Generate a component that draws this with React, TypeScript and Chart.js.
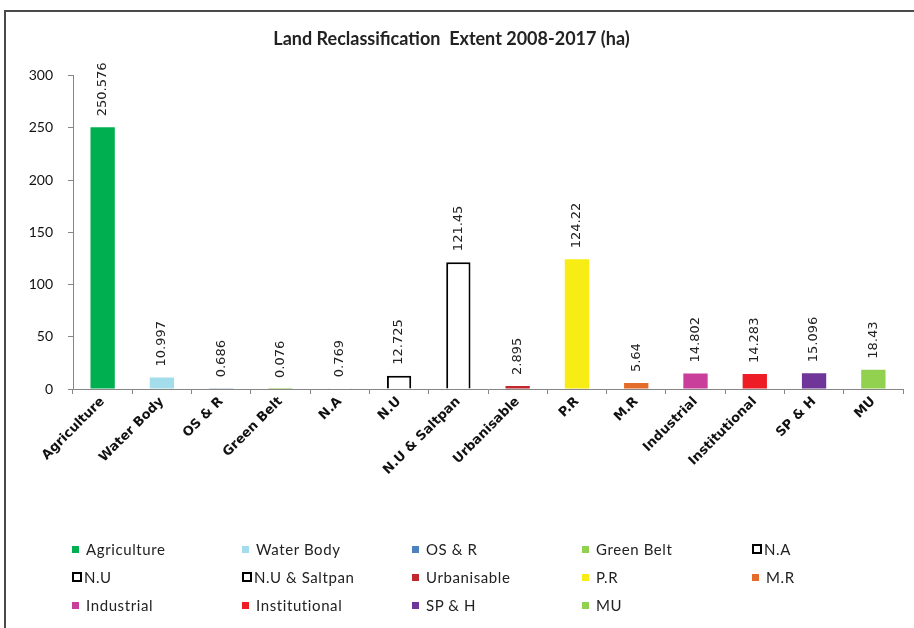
import React, { useEffect, useRef } from "react";
import { Chart, registerables } from "chart.js";

Chart.register(...registerables);

const TITLE = "Land Reclassification  Extent 2008-2017 (ha)";

const categories = [
  "Agriculture",
  "Water Body",
  "OS & R",
  "Green Belt",
  "N.A",
  "N.U",
  "N.U & Saltpan",
  "Urbanisable",
  "P.R",
  "M.R",
  "Industrial",
  "Institutional",
  "SP & H",
  "MU",
];

const values = [
  250.576, 10.997, 0.686, 0.076, 0.769, 12.725, 121.45, 2.895, 124.22, 5.64,
  14.802, 14.283, 15.096, 18.43,
];

const fillColors = [
  "#00B050",
  "#A3DCEA",
  "#4F81BD",
  "#92D050",
  "#FFFFFF",
  "#FFFFFF",
  "#FFFFFF",
  "#C0282D",
  "#F7EC13",
  "#E46C2A",
  "#C93D9B",
  "#EE1C25",
  "#6F3598",
  "#92D050",
];

const hollow = [false, false, false, false, true, true, true, false, false, false, false, false, false, false];

const yMin = 0;
const yMax = 300;
const yStep = 50;

const valueLabelPlugin = {
  id: "valueLabels",
  afterDatasetsDraw(chart: any) {
    const ctx = chart.ctx;
    const meta = chart.getDatasetMeta(0);
    ctx.save();
    ctx.font = "13px 'DejaVu Sans'";
    ctx.fillStyle = "#222";
    ctx.textAlign = "left";
    ctx.textBaseline = "middle";
    meta.data.forEach((bar: any, i: number) => {
      ctx.save();
      ctx.translate(bar.x, bar.y - 11);
      ctx.rotate(-Math.PI / 2);
      ctx.fillText(String(values[i]), 0, 0);
      ctx.restore();
    });
    ctx.restore();
  },
};

export default function App() {
  const canvasRef = useRef<HTMLCanvasElement | null>(null);

  useEffect(() => {
    if (!canvasRef.current) return;
    const chart = new Chart(canvasRef.current, {
      type: "bar",
      data: {
        labels: categories,
        datasets: [
          {
            data: values,
            backgroundColor: fillColors,
            borderColor: hollow.map((h) => (h ? "#000000" : "rgba(0,0,0,0)")),
            borderWidth: hollow.map((h) => (h ? 2 : 0)),
            barPercentage: 0.41,
            categoryPercentage: 1,
          },
        ],
      },
      options: {
        responsive: false,
        animation: false,
        devicePixelRatio: 1,
        layout: { padding: { left: 0, right: 11, top: 0, bottom: 89 } },
        plugins: {
          legend: { display: false },
          tooltip: { enabled: false },
          title: {
            display: true,
            text: TITLE,
            color: "#222",
            font: { family: "Lato", size: 18, weight: "bold" },
            padding: { top: 28, bottom: 26 },
          },
        },
        scales: {
          x: {
            grid: {
              offset: true,
              drawOnChartArea: false,
              drawTicks: true,
              tickLength: 5,
              color: "#868686",
            },
            border: { color: "#868686", width: 1 },
            ticks: {
              autoSkip: false,
              minRotation: 45,
              maxRotation: 45,
              padding: 0,
              color: "#111",
              font: { family: "DejaVu Sans", size: 13, weight: "bold" },
            },
            afterFit: (s: any) => {
              s.height = 150;
            },
          },
          y: {
            min: yMin,
            max: yMax,
            grid: {
              drawOnChartArea: false,
              drawTicks: true,
              tickLength: 5,
              color: "#868686",
            },
            border: { color: "#868686", width: 1 },
            ticks: {
              stepSize: yStep,
              padding: 15,
              color: "#111",
              font: { family: "Lato", size: 14 },
            },
            afterFit: (s: any) => {
              s.width = 73;
            },
          },
        },
      },
      plugins: [valueLabelPlugin],
    } as any);
    return () => chart.destroy();
  }, []);

  return (
    <div
      style={{
        position: "absolute",
        left: 0,
        top: 0,
        width: 914,
        height: 628,
        overflow: "hidden",
        background: "#fff",
      }}
    >
      <canvas
        ref={canvasRef}
        width={914}
        height={628}
        style={{ position: "absolute", left: 0, top: 0, width: 914, height: 628 }}
      />
      <div
        style={{
          position: "absolute",
          left: 4,
          top: 10,
          width: 940,
          height: 640,
          border: "2px solid #4a4a4a",
          boxSizing: "border-box",
          pointerEvents: "none",
        }}
      />
      <div
        style={{
          position: "absolute",
          left: 72,
          top: 535,
          display: "grid",
          gridTemplateColumns: "repeat(5, 170px)",
          gridAutoRows: "28px",
          fontFamily: "Lato",
          fontSize: 15,
          letterSpacing: "0.6px",
          color: "#222",
        }}
      >
        {categories.map((c, i) => (
          <div key={c} style={{ display: "flex", alignItems: "center" }}>
            <span
              style={{
                display: "inline-block",
                width: hollow[i] ? 6 : 7,
                height: hollow[i] ? 6 : 7,
                background: fillColors[i],
                border: hollow[i] ? "2px solid #000" : "none",
                marginRight: hollow[i] ? 2 : 7,
              }}
            />
            <span>{c}</span>
          </div>
        ))}
      </div>
    </div>
  );
}
